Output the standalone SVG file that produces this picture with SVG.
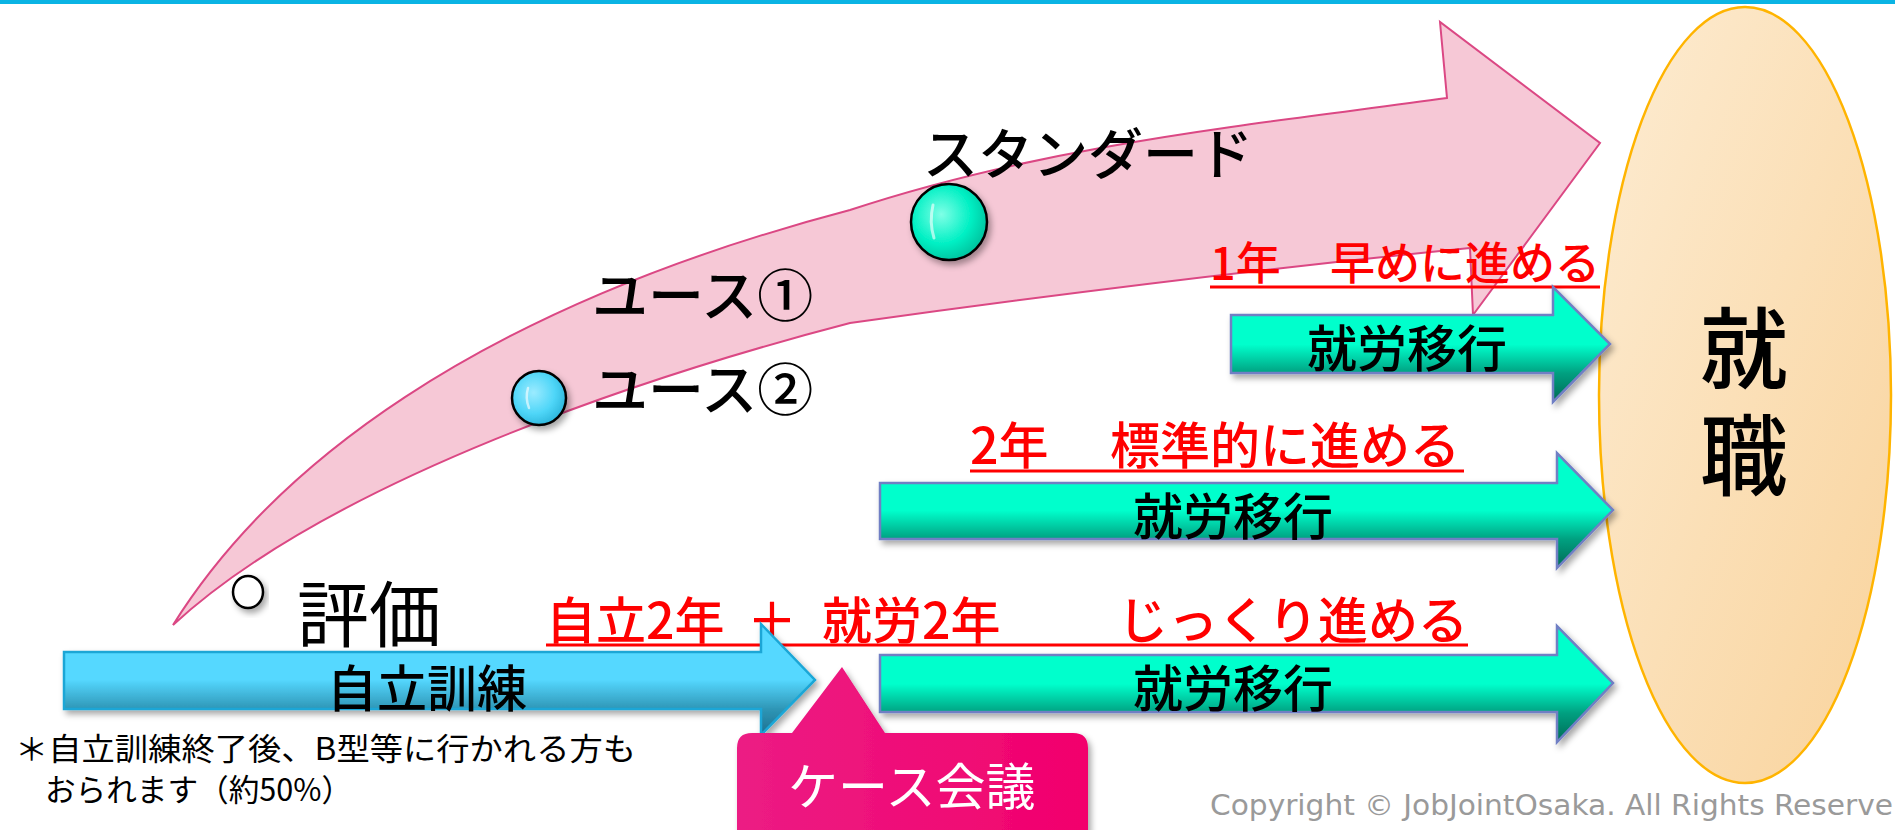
<svg xmlns="http://www.w3.org/2000/svg" width="1895" height="830" viewBox="0 0 1895 830">
<style>
.jp{font-family:"Noto Sans CJK JP","Noto Sans",sans-serif;}
.jpl{font-family:"Liberation Sans","Noto Sans CJK JP",sans-serif;}
.med{font-weight:500;}
.blk{fill:#000;}
.red{fill:#FF0000;}
.ul{stroke:#FF0000;stroke-width:3;}
.garrow{fill:url(#gGreen);stroke:#6F7FC4;stroke-width:2.5;}
.lbl{font-size:50px;text-anchor:middle;}
.hl{fill:none;stroke:#FFFFFF;stroke-linecap:round;opacity:0.6;}
.vert{writing-mode:vertical-rl;}
</style>
<defs>
<filter id="sh" x="-10%" y="-10%" width="130%" height="140%">
<feDropShadow dx="3" dy="4" stdDeviation="3" flood-color="#000" flood-opacity="0.35"/>
</filter>
<linearGradient id="gGreen" x1="0" y1="0" x2="0" y2="1">
<stop offset="0" stop-color="#00FFCC"/>
<stop offset="0.5" stop-color="#00FFCC"/>
<stop offset="0.75" stop-color="#00A080"/>
<stop offset="1" stop-color="#006A55"/>
</linearGradient>
<linearGradient id="gBlue" x1="0" y1="0" x2="0" y2="1">
<stop offset="0" stop-color="#55D8FF"/>
<stop offset="0.5" stop-color="#55D8FF"/>
<stop offset="0.77" stop-color="#2E95B5"/>
<stop offset="1" stop-color="#1E7090"/>
</linearGradient>
<linearGradient id="gEll" x1="0" y1="0" x2="1" y2="1">
<stop offset="0" stop-color="#FDECD2"/>
<stop offset="1" stop-color="#F9D39C"/>
</linearGradient>
<linearGradient id="gCall" x1="0" y1="0" x2="1" y2="0">
<stop offset="0" stop-color="#EC1C84"/>
<stop offset="1" stop-color="#F2006C"/>
</linearGradient>
<radialGradient id="gTeal" cx="0.4" cy="0.4" r="0.65">
<stop offset="0" stop-color="#7FFFE6"/>
<stop offset="0.6" stop-color="#00F0C4"/>
<stop offset="1" stop-color="#00C09C"/>
</radialGradient>
<radialGradient id="gSky" cx="0.4" cy="0.4" r="0.65">
<stop offset="0" stop-color="#9BEBFF"/>
<stop offset="0.6" stop-color="#4FD6F8"/>
<stop offset="1" stop-color="#2BB4DA"/>
</radialGradient>
</defs>

<rect x="0" y="0" width="1895" height="4" fill="#0AB4E4"/>

<g id="goal">
<ellipse cx="1745" cy="395" rx="146" ry="388" fill="url(#gEll)" stroke="#FFB400" stroke-width="2.5"/>
<text class="jp blk med vert" x="1744" y="304" font-size="88" letter-spacing="19">就職</text>
</g>

<g id="connectors">
<path id="bigArrow" d="M173,625 C270,470 470,310 850,210 C1050,144 1250,125 1447,98 L1440,22 L1600,143 L1473,315 L1470,248 C1250,270 1050,295 850,323 C650,375 330,480 173,625 Z" fill="#F6C8D6" stroke="#DB4884" stroke-width="2"/>
</g>

<g id="standard">
<circle cx="949" cy="222" r="38" fill="url(#gTeal)" stroke="#000" stroke-width="2.5" filter="url(#sh)"/>
<path class="hl" d="M933,205 Q929,222 934,238" stroke-width="3"/>
<text class="jp blk med" x="923" y="174" font-size="55">スタンダード</text>
</g>

<g id="youth1">
<text class="jp blk med" x="592" y="316" font-size="56">ユース①</text>
</g>

<g id="youth2">
<circle cx="539" cy="398" r="27" fill="url(#gSky)" stroke="#000" stroke-width="2.5" filter="url(#sh)"/>
<path class="hl" d="M528,388 Q525,398 529,408" stroke-width="2.5"/>
<text class="jp blk med" x="592" y="410" font-size="56">ユース②</text>
</g>

<g id="evaluation">
<ellipse cx="248" cy="592" rx="15" ry="16" fill="#FFFFFF" stroke="#000" stroke-width="2.5" filter="url(#sh)"/>
<text class="jpl blk" x="297" y="641" font-size="72">評価</text>
</g>

<g id="plan1">
<text class="jp red med" y="280" font-size="45"><tspan x="1210">1年</tspan><tspan x="1330">早めに進める</tspan></text>
<line class="ul" x1="1210" y1="287" x2="1600" y2="287"/>
<path class="garrow" d="M1231,315 L1553,315 L1553,287 L1610,344 L1553,402 L1553,373 L1231,373 Z" filter="url(#sh)"/>
<text class="jp blk med lbl" x="1407" y="367">就労移行</text>
</g>

<g id="plan2">
<text class="jp red med" y="464" font-size="50"><tspan x="970">2年</tspan><tspan x="1110">標準的に進める</tspan></text>
<line class="ul" x1="970" y1="471" x2="1464" y2="471"/>
<path class="garrow" d="M880,483 L1557,483 L1557,453 L1613,510 L1557,568 L1557,539 L880,539 Z" filter="url(#sh)"/>
<text class="jp blk med lbl" x="1233" y="535">就労移行</text>
</g>

<g id="plan3">
<text class="jp red med" y="639" font-size="50"><tspan x="546">自立2年</tspan><tspan x="747">＋</tspan><tspan x="822">就労2年</tspan><tspan x="1118">じっくり進める</tspan></text>
<line class="ul" x1="546" y1="645" x2="1468" y2="645"/>
<path class="garrow" d="M880,655 L1557,655 L1557,626 L1613,683 L1557,742 L1557,712 L880,712 Z" filter="url(#sh)"/>
<text class="jp blk med lbl" x="1233" y="707">就労移行</text>
</g>

<g id="training">
<path d="M64,652 L761,652 L761,624 L815,680 L761,735 L761,709 L64,709 Z" fill="url(#gBlue)" stroke="#1AA6D6" stroke-width="2.5" filter="url(#sh)"/>
<text class="jpl blk med lbl" x="427" y="707" font-size="48">自立訓練</text>
</g>

<g id="caseMeeting">
<path d="M752,733 L792,733 L842,667 L885,733 L1073,733 Q1088,733 1088,748 L1088,845 L737,845 L737,748 Q737,733 752,733 Z" fill="url(#gCall)" filter="url(#sh)"/>
<text class="jp" x="788" y="805" font-size="50" fill="#FFFFFF">ケース会議</text>
</g>

<g id="note">
<text class="jp blk" x="15" y="760" font-size="31" textLength="621" lengthAdjust="spacingAndGlyphs">＊自立訓練終了後、B型等に行かれる方も</text>
<text class="jp blk" x="45" y="801" font-size="31" textLength="307" lengthAdjust="spacingAndGlyphs">おられます（約50%）</text>
</g>

<g id="copyright">
<text x="1210" y="815" font-family="DejaVu Sans Condensed, DejaVu Sans, sans-serif" font-size="28" fill="#9A9A9A" textLength="683" lengthAdjust="spacingAndGlyphs">Copyright © JobJointOsaka. All Rights Reserve</text>
</g>
</svg>
